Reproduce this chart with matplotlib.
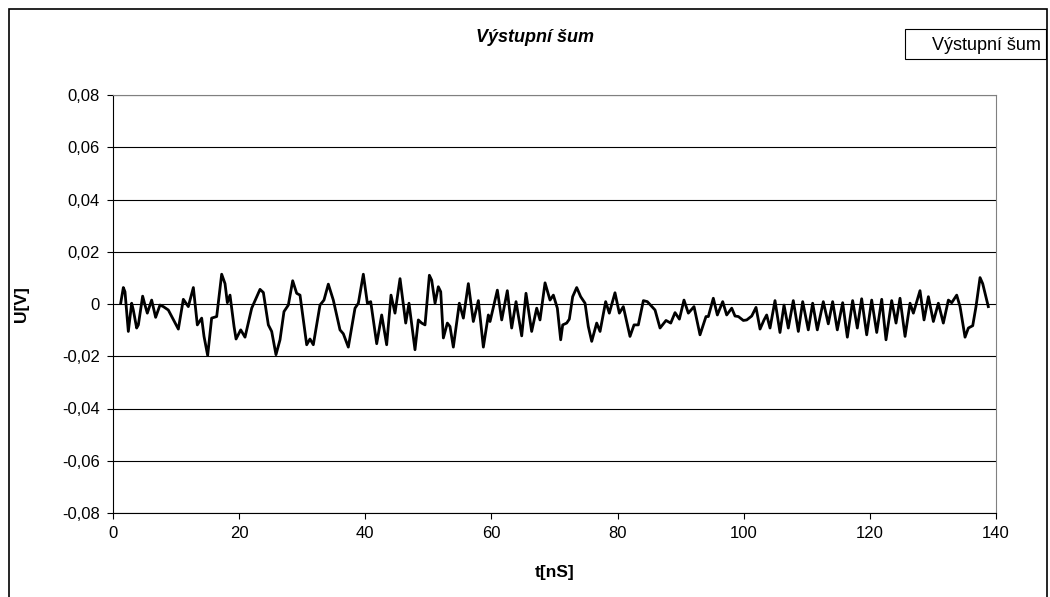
import numpy as np
import matplotlib as mpl
import matplotlib.pyplot as plt
from matplotlib.patches import Rectangle
from matplotlib.ticker import FuncFormatter

mpl.rcParams['font.family'] = ['Liberation Sans', 'DejaVu Sans']
mpl.rcParams['font.size'] = 12

title = 'Výstupní šum'
seriesName = 'Výstupní šum'
xLabel = 't[nS]'
yLabel = 'U[V]'

# values
t = [1.22, 1.64, 1.90, 2.43, 2.96, 3.22, 3.75, 4.02, 4.70, 5.07, 5.44, 6.13, 6.76, 7.45,
     7.98, 8.77, 10.36, 11.15, 11.94, 12.74, 13.37, 14.06, 14.43, 15.01, 15.64, 16.44,
     17.23, 17.76, 18.13, 18.55, 19.19, 19.51, 20.25, 20.93, 21.99, 23.31, 23.84, 24.63,
     25.16, 25.84, 26.48, 27.11, 27.80, 28.49, 29.12, 29.65, 30.71, 31.23, 31.76, 32.82,
     33.45, 34.14, 34.93, 35.99, 36.52, 37.31, 38.37, 38.90, 39.69, 40.33, 40.86, 41.81,
     42.60, 43.39, 44.08, 44.71, 45.51, 46.41, 46.93, 47.88, 48.41, 48.94, 49.47, 50.16,
     50.53, 51.06, 51.58, 51.96, 52.38, 53.01, 53.43, 53.96, 54.91, 55.55, 56.34, 57.13,
     57.93, 58.72, 59.51, 59.78, 60.94, 61.63, 62.52, 63.21, 63.90, 64.80, 65.48, 66.38,
     67.18, 67.70, 68.50, 69.29, 69.82, 70.45, 70.98, 71.30, 71.93, 72.35, 72.88, 73.52,
     74.15, 74.84, 75.36, 75.90, 76.69, 77.22, 78.11, 78.69, 79.59, 80.28, 80.91, 81.97,
     82.61, 83.29, 84.09, 84.72, 85.94, 86.73, 87.68, 88.43, 89.11, 89.80, 90.53, 91.22,
     92.12, 93.07, 94.02, 94.39, 95.18, 95.82, 96.67, 97.30, 98.10, 98.62, 99.15, 99.94,
     100.48, 101.27, 101.95, 102.59, 103.22, 103.64, 104.17, 104.96, 105.75, 106.39,
     107.07, 107.86, 108.66, 109.35, 110.24, 110.93, 111.67, 112.62, 113.41, 114.10,
     114.84, 115.69, 116.43, 117.27, 118.01, 118.70, 119.50, 120.29, 121.09, 121.88,
     122.56, 123.46, 124.15, 124.78, 125.58, 126.37, 126.90, 127.95, 128.59, 129.28,
     130.07, 130.86, 131.65, 132.45, 132.98, 133.77, 134.30, 135.09, 135.62, 136.31,
     136.83, 137.47, 137.89, 138.78]
u = [0.0003, 0.0063, 0.0047, -0.0105, 0.0003, -0.0023, -0.0092, -0.0080, 0.0030, -0.0004,
     -0.0035, 0.0015, -0.0051, -0.0004, -0.0010, -0.0023, -0.0096, 0.0018, -0.0010, 0.0063,
     -0.0080, -0.0054, -0.0124, -0.0197, -0.0054, -0.0048, 0.0114, 0.0078, 0.0005, 0.0034,
     -0.0086, -0.0134, -0.0099, -0.0127, -0.0016, 0.0056, 0.0044, -0.0080, -0.0105, -0.0194,
     -0.0137, -0.0029, -0.0004, 0.0089, 0.0041, 0.0034, -0.0156, -0.0134, -0.0156, -0.0004,
     0.0015, 0.0076, 0.0015, -0.0099, -0.0114, -0.0165, -0.0016, 0.0003, 0.0114, 0.0003,
     0.0009, -0.0152, -0.0042, -0.0156, 0.0034, -0.0035, 0.0097, -0.0073, 0.0003, -0.0175,
     -0.0061, -0.0073, -0.0080, 0.0110, 0.0091, 0.0003, 0.0066, 0.0047, -0.0130, -0.0073,
     -0.0086, -0.0165, 0.0003, -0.0054, 0.0078, -0.0067, 0.0013, -0.0165, -0.0042, -0.0067,
     0.0053, -0.0061, 0.0051, -0.0092, 0.0009, -0.0122, 0.0041, -0.0105, -0.0016, -0.0061,
     0.0081, 0.0015, 0.0034, -0.0016, -0.0137, -0.0080, -0.0073, -0.0058, 0.0028, 0.0063,
     0.0028, 0.0003, -0.0086, -0.0143, -0.0073, -0.0105, 0.0009, -0.0035, 0.0043, -0.0035,
     -0.0010, -0.0124, -0.0080, -0.0080, 0.0013, 0.0009, -0.0023, -0.0092, -0.0063, -0.0073,
     -0.0033, -0.0058, 0.0015, -0.0035, -0.0010, -0.0118, -0.0048, -0.0048, 0.0022, -0.0042,
     0.0009, -0.0042, -0.0016, -0.0046, -0.0048, -0.0063, -0.0061, -0.0046, -0.0013, -0.0096,
     -0.0061, -0.0042, -0.0092, 0.0013, -0.0109, -0.0004, -0.0092, 0.0013, -0.0105, 0.0009,
     -0.0099, 0.0003, -0.0099, 0.0009, -0.0076, 0.0009, -0.0099, 0.0005, -0.0127, 0.0013,
     -0.0092, 0.0020, -0.0118, 0.0015, -0.0109, 0.0018, -0.0137, 0.0013, -0.0073, 0.0022,
     -0.0124, 0.0003, -0.0035, 0.0051, -0.0061, 0.0028, -0.0067, 0.0003, -0.0073, 0.0015,
     0.0005, 0.0034, -0.0010, -0.0127, -0.0092, -0.0083, -0.0010, 0.0101, 0.0078, -0.0010]

xTicks = [0, 20, 40, 60, 80, 100, 120, 140]
yTicks = [-0.08, -0.06, -0.04, -0.02, 0, 0.02, 0.04, 0.06, 0.08]

W, H = 1050, 597
fig = plt.figure(figsize=(W / 100, H / 100), dpi=100)
ax = fig.add_axes([113 / W, 1 - 513 / H, (996 - 113) / W, (513 - 95) / H])

# chart border
fig.patches.append(Rectangle((9 / W, -0.01), (1047 - 9) / W, 1 - 9 / H + 0.01,
                             transform=fig.transFigure, fill=False,
                             edgecolor='black', linewidth=1.2))

ax.plot(t, u, color='black', linewidth=2.0, solid_joinstyle='round')

ax.set_xlim(0, 140)
ax.set_ylim(-0.08, 0.08)
ax.set_xticks(xTicks)
ax.set_yticks(yTicks)
ax.yaxis.set_major_formatter(FuncFormatter(
    lambda v, p: '0' if abs(v) < 1e-9 else ('%.2f' % v).replace('.', ',')))
ax.grid(axis='y', color='black', linewidth=0.8)
ax.set_axisbelow(True)
for s in ['top', 'right']:
    ax.spines[s].set_color('#808080')
    ax.spines[s].set_linewidth(0.8)
for s in ['left', 'bottom']:
    ax.spines[s].set_color('black')
    ax.spines[s].set_linewidth(0.8)
ax.tick_params(direction='out', length=4.5, width=0.8, labelsize=12, pad=5)

fig.text(555 / W, 1 - 572 / H, xLabel, ha='center', va='center',
         fontsize=12.5, fontweight='bold')
fig.text(22 / W, 1 - 304 / H, yLabel, ha='center', va='center', rotation=90,
         fontsize=12.5, fontweight='bold')

fig.text(535 / W, 1 - 37 / H, title, ha='center', va='center',
         fontsize=13, fontweight='bold', fontstyle='italic')

# legend box (text only, as in the reference)
fig.patches.append(Rectangle((905 / W, 1 - 59 / H), (1046 - 905) / W, 30 / H,
                             transform=fig.transFigure, facecolor='white',
                             edgecolor='black', linewidth=0.8))
fig.text(1041 / W, 1 - 45 / H, seriesName, ha='right', va='center', fontsize=13)

plt.savefig('out.png', dpi=100)
